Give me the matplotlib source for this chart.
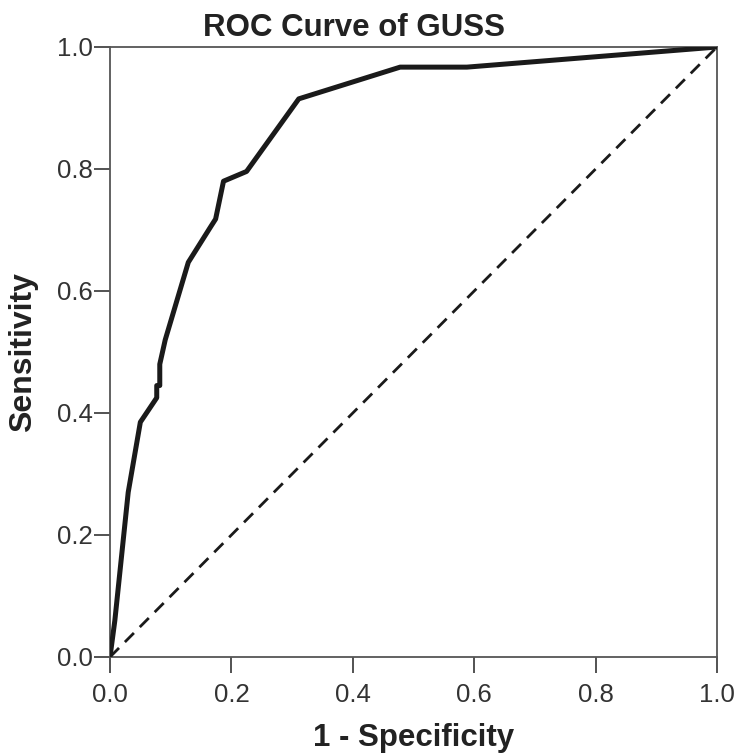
import matplotlib
matplotlib.use("Agg")
import matplotlib.pyplot as plt

plt.rcParams['font.family'] = ['Liberation Sans', 'DejaVu Sans']

fpr = [0.0, 0.008, 0.03, 0.05, 0.077, 0.077, 0.082, 0.082, 0.091, 0.129, 0.165, 0.174, 0.187, 0.225, 0.311, 0.478, 0.588, 1.0]
tpr = [0.0, 0.06, 0.27, 0.385, 0.425, 0.445, 0.445, 0.48, 0.52, 0.647, 0.704, 0.718, 0.78, 0.796, 0.915, 0.967, 0.967, 1.0]
ref = [0.0, 1.0]
ticks = [0.0, 0.2, 0.4, 0.6, 0.8, 1.0]
tick_labels = ["0.0", "0.2", "0.4", "0.6", "0.8", "1.0"]

W, H = 739, 755
fig = plt.figure(figsize=(W / 100, H / 100), dpi=100)
left, right, top, bottom = 110, 717, 47, 657
ax = fig.add_axes([left / W, (H - bottom) / H, (right - left) / W, (bottom - top) / H])
ax.plot(fpr, tpr, color='#1a1a1a', lw=3.6, solid_joinstyle='round', zorder=3)
ax.plot(ref, ref, color='#1a1a1a', lw=2, dashes=(4.6, 3.0), zorder=2)
ax.set_xlim(0, 1)
ax.set_ylim(0, 1)
ax.set_xticks(ticks)
ax.set_xticklabels(tick_labels)
ax.set_yticks(ticks)
ax.set_yticklabels(tick_labels)
for s in ax.spines.values():
    s.set_color('#555555')
    s.set_linewidth(1.3)
ax.tick_params(axis='both', direction='out', length=11.5, width=1.3, color='#444444',
               labelsize=18.5, labelcolor='#333333')
ax.tick_params(axis='x', pad=7)
ax.tick_params(axis='y', pad=1)
fig.text(354 / W, 1 - 28 / H, "ROC Curve of GUSS", fontsize=22.5, fontweight='bold',
         color='#222222', ha='center', va='center')
ax.set_xlabel("1 - Specificity", fontsize=22.5, fontweight='bold', color='#222222')
ax.xaxis.set_label_coords(0.5, -(738 - bottom) / (bottom - top), transform=ax.transAxes)
ax.xaxis.label.set_va('center')
ax.set_ylabel("Sensitivity", fontsize=23, fontweight='bold', color='#222222')
ax.yaxis.set_label_coords(-(left - 23) / (right - left), 0.5, transform=ax.transAxes)
ax.yaxis.label.set_va('center')
fig.savefig("out.png", dpi=100)
